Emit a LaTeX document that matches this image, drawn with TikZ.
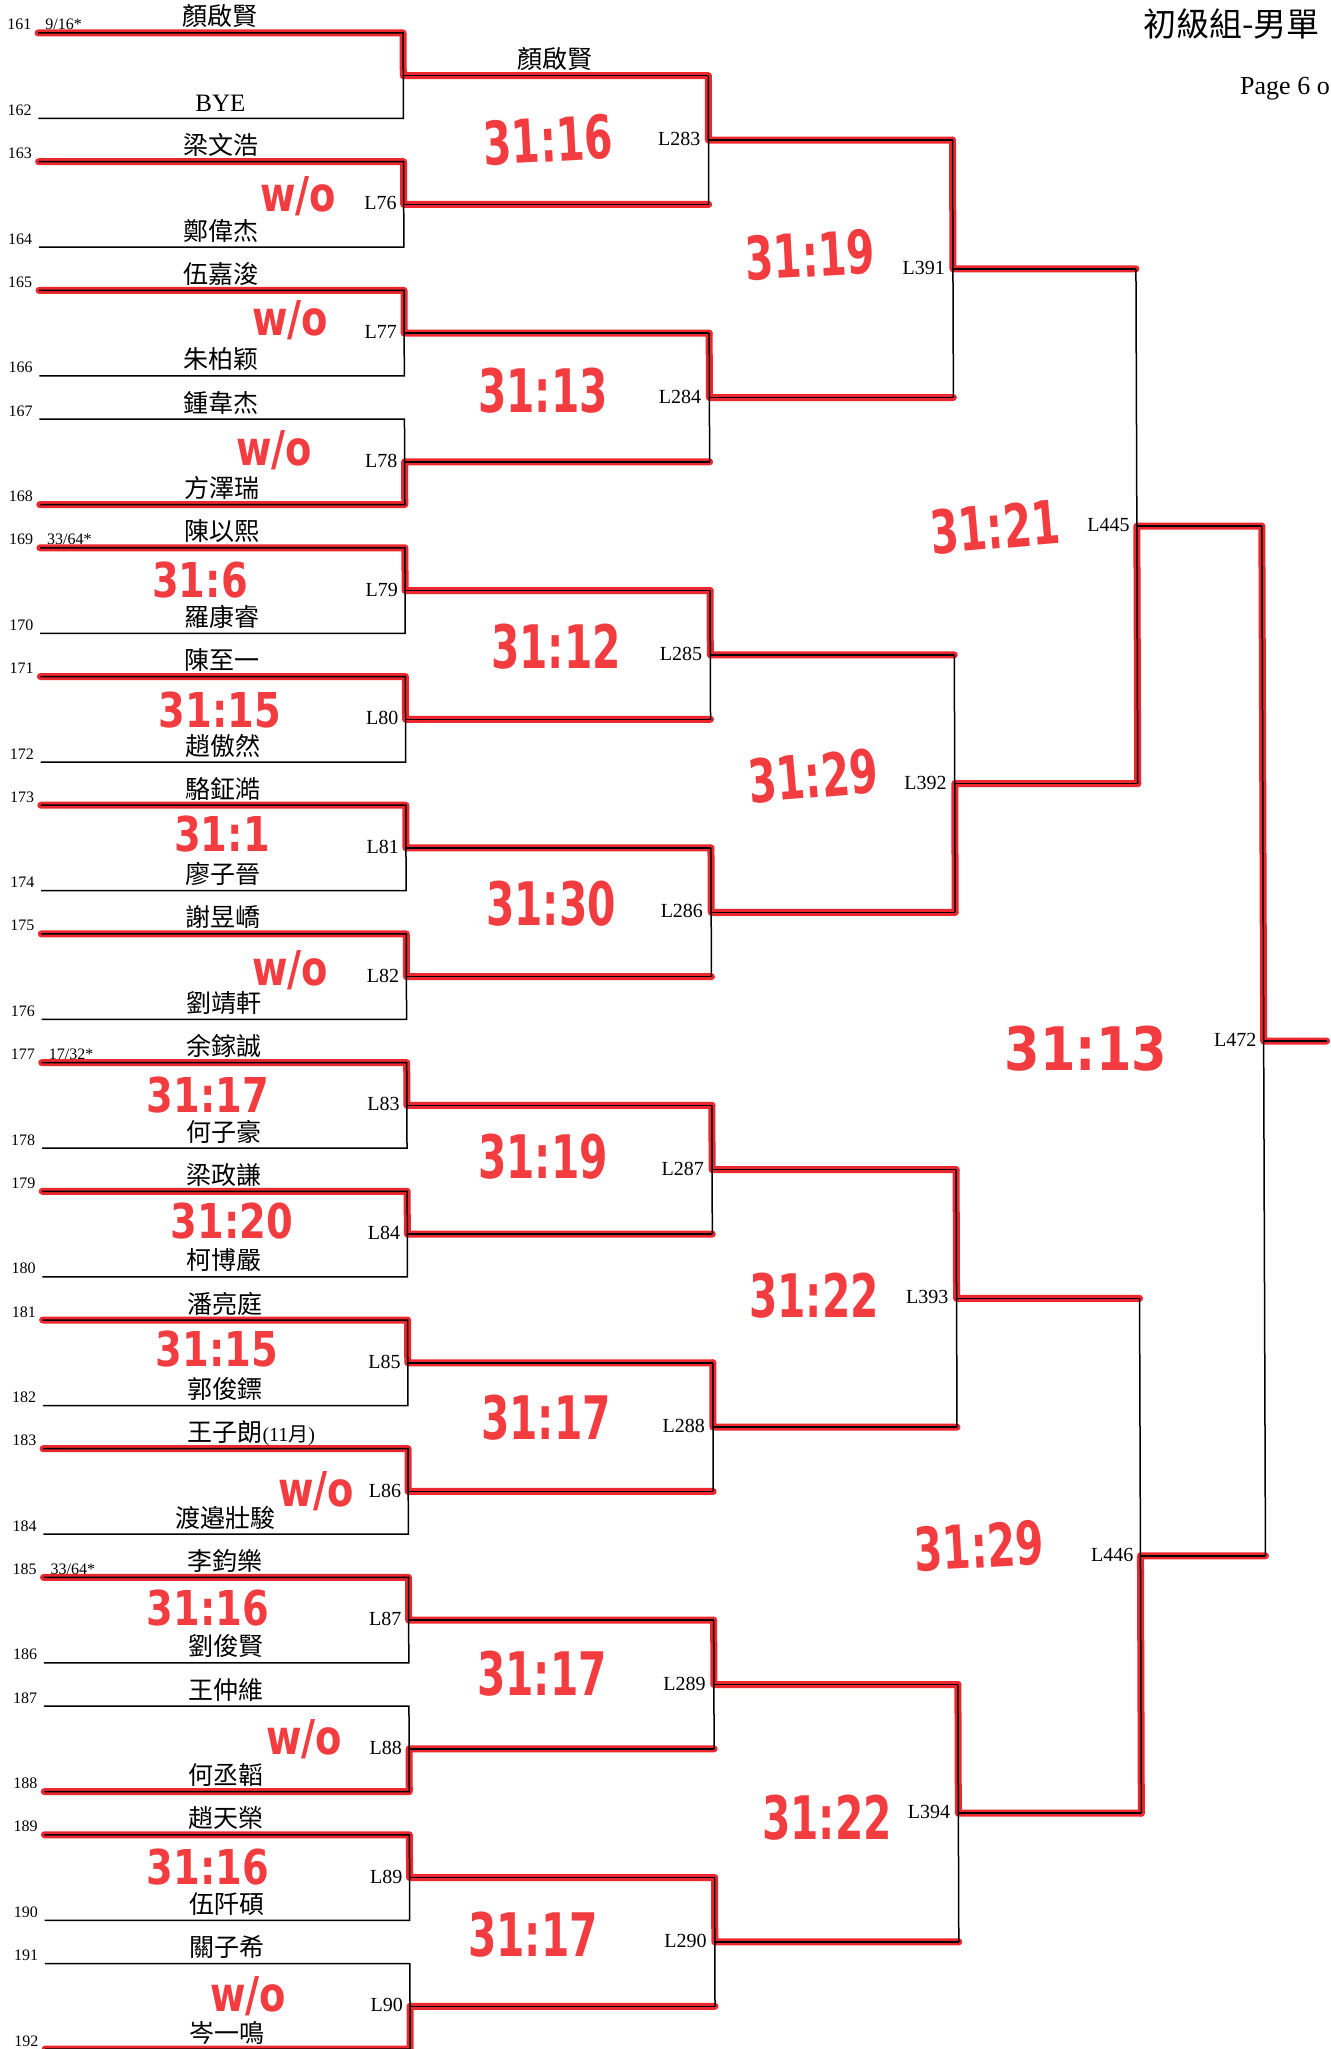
\documentclass[tikz,border=0pt]{standalone}
\usepackage{fontspec}
\usepackage{graphicx}
\setmainfont{Liberation Serif}
\newfontfamily\cjk{Noto Sans CJK TC}
\newfontfamily\handf{DejaVu Sans}
\definecolor{mk}{RGB}{236,40,46}
\definecolor{sc}{RGB}{242,60,64}
\newcommand\wo{w/o}
\newcommand\sco[1]{\scalebox{0.68}[1]{#1}}
\newcommand\scoa[1]{\scalebox{0.8}[1]{#1}}
\newcommand\byetxt{{\rmfamily BYE}}
\newcommand\wzl{王子朗\rlap{\rmfamily\fontsize{20}{20}\selectfont(11{\cjk 月})}}
\begin{document}
\begin{tikzpicture}[x=1pt,y=-1pt,
  blk/.style={line width=1.5pt,black},
  redp/.style={line width=7pt,mk,line cap=round,line join=round},
  seed/.style={font=\fontsize{16}{16}\selectfont,anchor=base west,inner sep=0pt},
  pname/.style={font=\cjk\fontsize{25}{25}\selectfont,anchor=base,inner sep=0pt},
  lab/.style={font=\fontsize{20}{20}\selectfont,anchor=east,inner sep=0pt},
  score/.style={text=sc,inner sep=0pt,font=\handf\bfseries\fontsize{60}{60}\selectfont},
  scorea/.style={text=sc,inner sep=0pt,font=\handf\bfseries\fontsize{48}{48}\selectfont}]
\fill[white] (0,0) rectangle (1330,2049);
\useasboundingbox (0,0) rectangle (1330,2049);

\node[anchor=base west,font=\cjk\fontsize{33}{33}\selectfont,inner sep=0pt] (title) at (1143,37) {初級組-男單};
\node[anchor=base west,font=\fontsize{26}{26}\selectfont,inner sep=0pt] (page) at (1240,95) {Page 6 o};

\begin{scope}[cm={1,0,-0.0035,1,(0,0)}]
% ---------- coordinates ----------
\foreach \i in {0,...,31}{
  \pgfmathsetmacro\yy{33+128.7*floor(\i/2)+85.5*mod(\i,2)}
  \coordinate (a\i) at (38,\yy);
  \coordinate (b\i) at (403,\yy);
}
\foreach \k in {0,...,15}{
  \pgfmathsetmacro\yy{75.75+128.7*\k}
  \coordinate (m1-\k) at (403,\yy);
  \coordinate (n2-\k) at (708,\yy);
}
\foreach \j in {0,...,7}{
  \pgfmathsetmacro\yy{140.1+257.4*\j}
  \coordinate (m2-\j) at (708,\yy);
  \coordinate (n3-\j) at (952,\yy);
}
\foreach \m in {0,...,3}{
  \pgfmathsetmacro\yy{268.8+514.8*\m}
  \coordinate (m3-\m) at (952,\yy);
  \coordinate (n4-\m) at (1135,\yy);
}
\foreach \n in {0,1}{
  \pgfmathsetmacro\yy{526.2+1029.6*\n}
  \coordinate (m4-\n) at (1135,\yy);
  \coordinate (n5-\n) at (1260,\yy);
}
\coordinate (m5) at (1260,1041);
\coordinate (fin) at (1323,1041);

% ---------- red winner paths ----------
\foreach \k/\w in {0/0,1/0,2/0,3/1,4/0,5/0,6/0,7/0,8/0,9/0,10/0,11/0,12/0,13/1,14/0,15/1}{
  \pgfmathtruncatemacro\ii{2*\k+\w}
  \draw[redp] (a\ii) -- (b\ii) -- (m1-\k) -- (n2-\k);
}
\foreach \j in {0,...,7}{
  \pgfmathtruncatemacro\ii{2*\j}
  \draw[redp] (n2-\ii) -- (m2-\j) -- (n3-\j);
}
\foreach \m/\w in {0/0,1/1,2/0,3/0}{
  \pgfmathtruncatemacro\ii{2*\m+\w}
  \draw[redp] (n3-\ii) -- (m3-\m) -- (n4-\m);
}
\foreach \n/\w in {0/1,1/1}{
  \pgfmathtruncatemacro\ii{2*\n+\w}
  \draw[redp] (n4-\ii) -- (m4-\n) -- (n5-\n);
}
\draw[redp] (n5-0) -- (m5) -- (fin);

% ---------- black bracket ----------
\foreach \k in {0,...,15}{
  \pgfmathtruncatemacro\ia{2*\k}
  \pgfmathtruncatemacro\ib{2*\k+1}
  \draw[blk] (a\ia) -- (b\ia) -- (b\ib) -- (a\ib);
  \draw[blk] (m1-\k) -- (n2-\k);
}
\foreach \j in {0,...,7}{
  \pgfmathtruncatemacro\ia{2*\j}
  \pgfmathtruncatemacro\ib{2*\j+1}
  \draw[blk] (n2-\ia) -- (n2-\ib);
  \draw[blk] (m2-\j) -- (n3-\j);
}
\foreach \m in {0,...,3}{
  \pgfmathtruncatemacro\ia{2*\m}
  \pgfmathtruncatemacro\ib{2*\m+1}
  \draw[blk] (n3-\ia) -- (n3-\ib);
  \draw[blk] (m3-\m) -- (n4-\m);
}
\foreach \n in {0,1}{
  \pgfmathtruncatemacro\ia{2*\n}
  \pgfmathtruncatemacro\ib{2*\n+1}
  \draw[blk] (n4-\ia) -- (n4-\ib);
  \draw[blk] (m4-\n) -- (n5-\n);
}
\draw[blk] (n5-0) -- (n5-1);
\draw[blk] (m5) -- (fin);

% ---------- seeds ----------
\foreach \i in {0,...,31}{
  \pgfmathsetmacro\yy{30+128.7*floor(\i/2)+85.5*mod(\i,2)}
  \pgfmathtruncatemacro\sn{161+\i}
  \node[seed] (sd\i) at (7,\yy) {\sn};
}
\node[seed] (x0) at (45,30) {9/16*};
\node[seed] (x8) at (45,544.8) {33/64*};
\node[seed] (x16) at (45,1059.6) {17/32*};
\node[seed] (x24) at (45,1574.4) {33/64*};

% ---------- names ----------
\foreach \i/\t in {0/顏啟賢,1/\byetxt,2/梁文浩,3/鄭偉杰,4/伍嘉浚,5/朱柏颖,6/鍾韋杰,7/方澤瑞,
  8/陳以熙,9/羅康睿,10/陳至一,11/趙傲然,12/駱鉦澔,13/廖子晉,14/謝昱嶠,15/劉靖軒,
  16/余鎵誠,17/何子豪,18/梁政謙,19/柯博嚴,20/潘亮庭,21/郭俊鏢,22/\wzl,23/渡邉壯駿,
  24/李鈞樂,25/劉俊賢,26/王仲維,27/何丞韜,28/趙天榮,29/伍阡碩,30/關子希,31/岑一鳴}{
  \pgfmathsetmacro\yy{26+128.7*floor(\i/2)+85.5*mod(\i,2)}
  \node[pname] (nm\i) at (220,\yy) {\t};
}
\node[pname] (w2) at (555,69) {顏啟賢};

% ---------- match labels ----------
\foreach \k in {1,...,15}{
  \pgfmathtruncatemacro\lb{75+\k}
  \node[lab] (l1-\k) at ([xshift=-7pt,yshift=1pt]m1-\k) {L\lb};
}
\foreach \j in {0,...,7}{
  \pgfmathtruncatemacro\lb{283+\j}
  \node[lab] (l2-\j) at ([xshift=-8pt,yshift=1pt]m2-\j) {L\lb};
}
\foreach \m in {0,...,3}{
  \pgfmathtruncatemacro\lb{391+\m}
  \node[lab] (l3-\m) at ([xshift=-8pt,yshift=1pt]m3-\m) {L\lb};
}
\node[lab] (l4-0) at ([xshift=-7pt,yshift=1pt]m4-0) {L445};
\node[lab] (l4-1) at ([xshift=-7pt,yshift=1pt]m4-1) {L446};
\node[lab] (l5) at ([xshift=-7pt,yshift=1pt]m5) {L472};
\end{scope}

% ---------- handwritten scores, first round ----------
\foreach \x/\y/\t [count=\c] in {
  298/196/\wo, 290/320/\wo, 274/450/\wo, 200/580/31:6,
  220/710/31:15, 222/834/31:1, 290/970/\wo, 208/1095/31:17,
  232/1221/31:20, 217/1349/31:15, 316/1491/\wo, 208/1608/31:16,
  304/1739/\wo, 208/1867/31:16, 248/1996/\wo}{
  \node[scorea] (r\c) at (\x,\y) {\scoa{\t}};
}
% ---------- handwritten scores, later rounds ----------
\foreach \x/\y/\t/\r [count=\c] in {
  548/140/31:16/3, 543/391/31:13/0, 556/647/31:12/0, 551/904/31:30/0,
  543/1157/31:19/0, 546/1418/31:17/0, 542/1674/31:17/0, 533/1935/31:17/0,
  810/255/31:19/3, 813/776/31:29/5, 814/1296/31:22/0, 827/1818/31:22/0,
  995/527/31:21/5, 979/1546/31:29/3}{
  \node[score,rotate=\r] (s\c) at (\x,\y) {\sco{\t}};
}
\node[score] (sfinal) at (1086,1049) {\scalebox{0.85}[1]{31:13}};
\end{tikzpicture}
\end{document}
